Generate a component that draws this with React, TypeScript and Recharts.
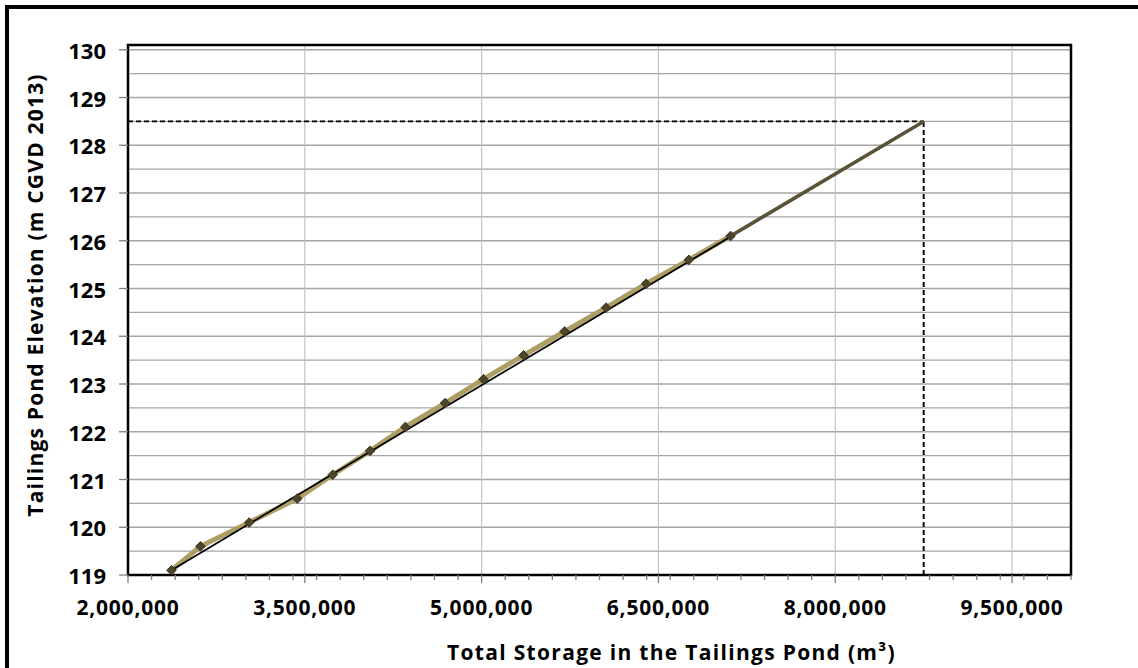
import React from "react";
import {
  LineChart,
  Line,
  XAxis,
  YAxis,
  CartesianGrid,
  ReferenceArea,
} from "recharts";

// ---- Data ----
const STORAGE = [
  2369000, 2615000, 3028000, 3436000, 3737000, 4054000, 4353000, 4690000,
  5016000, 5356000, 5704000, 6056000, 6396000, 6758000, 7112000,
];
const ELEVATION = [
  119.1, 119.6, 120.1, 120.6, 121.1, 121.6, 122.1, 122.6, 123.1, 123.6, 124.1,
  124.6, 125.1, 125.6, 126.1,
];
const FIT_STORAGE = [2369000, 8750000];
const FIT_ELEVATION = [119.1, 128.5];
const PROJ_STORAGE = [7112000, 8750000];
const PROJ_ELEVATION = [126.1, 128.5];
const DESIGN_STORAGE = 8750000;
const DESIGN_ELEVATION = 128.5;

const X_MIN = 2000000;
const X_MAX = 10000000;
const Y_MIN = 119;
const Y_MAX = 130.1;

const X_MAJOR_TICKS = [2000000, 3500000, 5000000, 6500000, 8000000, 9500000];
const X_MINOR_TICKS = [
  2000000, 2200000, 2400000, 2600000, 2800000, 3000000, 3200000, 3400000,
  3600000, 3800000, 4000000, 4200000, 4400000, 4600000, 4800000, 5000000,
  5200000, 5400000, 5600000, 5800000, 6000000, 6200000, 6400000, 6600000,
  6800000, 7000000, 7200000, 7400000, 7600000, 7800000, 8000000, 8200000,
  8400000, 8600000, 8800000, 9000000, 9200000, 9400000, 9600000, 9800000,
  10000000,
];
const Y_TICKS = [119, 120, 121, 122, 123, 124, 125, 126, 127, 128, 129, 130];
const Y_GRID = [
  119, 119.5, 120, 120.5, 121, 121.5, 122, 122.5, 123, 123.5, 124, 124.5, 125,
  125.5, 126, 126.5, 127, 127.5, 128, 128.5, 129, 129.5, 130,
];

const X_TITLE = "Total Storage in the Tailings Pond (m³)";
const Y_TITLE = "Tailings Pond Elevation (m CGVD 2013)";

// ---- Derived tables ----
const dataSeries = STORAGE.map((x, i) => ({ x, y: ELEVATION[i] }));
const fitSeries = FIT_STORAGE.map((x, i) => ({ x, y: FIT_ELEVATION[i] }));
const projSeries = PROJ_STORAGE.map((x, i) => ({ x, y: PROJ_ELEVATION[i] }));
const dashH = [
  { x: X_MIN, y: DESIGN_ELEVATION },
  { x: DESIGN_STORAGE, y: DESIGN_ELEVATION },
];
const dashV = [
  { x: DESIGN_STORAGE, y: Y_MIN },
  { x: DESIGN_STORAGE, y: DESIGN_ELEVATION },
];
const ALL_X_TICKS = Array.from(
  new Set([...X_MINOR_TICKS, ...X_MAJOR_TICKS])
).sort((a, b) => a - b);

const FONT = "'Open Sans', 'DejaVu Sans', sans-serif";

const XTick = (props: any) => {
  const { x, y, payload } = props;
  const v = payload.value;
  const major = X_MAJOR_TICKS.includes(v);
  return (
    <g>
      <line
        x1={x}
        x2={x}
        y1={y}
        y2={y + (major ? 8 : 5)}
        stroke="#7f7f7f"
        strokeWidth={1.3}
      />
      {major && (
        <text
          x={x}
          y={y + 40}
          textAnchor="middle"
          fontFamily={FONT}
          fontWeight={700}
          fontSize={21}
          letterSpacing={0.8}
          fill="#000"
        >
          {v.toLocaleString("en-US")}
        </text>
      )}
    </g>
  );
};

const YTick = (props: any) => {
  const { x, y, payload } = props;
  return (
    <text
      x={x}
      y={y}
      textAnchor="end"
      dominantBaseline="central"
      fontFamily={FONT}
      fontWeight={700}
      fontSize={22}
      fill="#000"
    >
      {payload.value}
    </text>
  );
};

const Diamond = (props: any) => {
  const { cx, cy, index } = props;
  const r = 4.8;
  return (
    <path
      key={`d-${index}`}
      d={`M${cx},${cy - r}L${cx + r},${cy}L${cx},${cy + r}L${cx - r},${cy}Z`}
      fill="#4b4529"
      stroke="#3a3520"
      strokeWidth={1}
    />
  );
};

const YTitle = (props: any) => {
  const vb = props.viewBox;
  const cx = vb.x + 43;
  const cy = vb.y + vb.height / 2 - 15;
  return (
    <text
      x={cx}
      y={cy}
      transform={`rotate(-90 ${cx} ${cy})`}
      textAnchor="middle"
      fontFamily={FONT}
      fontWeight={700}
      fontSize={21}
      letterSpacing={1.2}
      fill="#000"
    >
      {Y_TITLE}
    </text>
  );
};

const XTitle = (props: any) => {
  const vb = props.viewBox;
  return (
    <text
      x={vb.x + vb.width / 2 + 72}
      y={vb.y + 85}
      textAnchor="middle"
      fontFamily={FONT}
      fontWeight={700}
      fontSize={21}
      letterSpacing={1.3}
      fill="#000"
    >
      {X_TITLE}
    </text>
  );
};

export default function App() {
  return (
    <div
      style={{
        position: "fixed",
        left: 0,
        top: 0,
        width: 1138,
        height: 668,
        background: "#fff",
        overflow: "hidden",
      }}
    >
      <div
        style={{
          position: "absolute",
          left: 5,
          top: 5,
          width: 1300,
          height: 900,
          borderLeft: "4px solid #000",
          borderTop: "4px solid #000",
        }}
      />
      <div style={{ position: "absolute", left: 0, top: 0 }}>
        <LineChart
          width={1138}
          height={668}
          margin={{ top: 45, right: 67, bottom: 0, left: 0 }}
        >
          <XAxis
            xAxisId="main"
            type="number"
            dataKey="x"
            domain={[X_MIN, X_MAX]}
            ticks={ALL_X_TICKS}
            interval={0}
            tick={<XTick />}
            tickLine={false}
            tickSize={0}
            tickMargin={0}
            axisLine={false}
            height={93}
            allowDataOverflow
            label={<XTitle />}
          />
          <XAxis
            xAxisId="grid"
            orientation="top"
            type="number"
            dataKey="x"
            domain={[X_MIN, X_MAX]}
            ticks={X_MAJOR_TICKS}
            interval={0}
            allowDataOverflow
            hide
          />
          <YAxis
            yAxisId="main"
            type="number"
            domain={[Y_MIN, Y_MAX]}
            ticks={Y_TICKS}
            interval={0}
            width={128}
            tick={<YTick />}
            tickSize={9}
            tickMargin={13}
            tickLine={{ stroke: "#7f7f7f", strokeWidth: 1.3 }}
            axisLine={false}
            allowDataOverflow
            label={<YTitle />}
          />
          <YAxis
            yAxisId="grid"
            orientation="right"
            type="number"
            domain={[Y_MIN, Y_MAX]}
            ticks={Y_GRID}
            interval={0}
            allowDataOverflow
            hide
          />
          <CartesianGrid
            xAxisId="grid"
            yAxisId="grid"
            vertical={false}
            stroke="#a6a6a6"
            strokeWidth={1.4}
          />
          <CartesianGrid
            xAxisId="grid"
            yAxisId="grid"
            horizontal={false}
            stroke="#c0c0c0"
            strokeWidth={1.1}
          />
          <ReferenceArea
            xAxisId="main"
            yAxisId="main"
            x1={X_MIN}
            x2={X_MAX}
            y1={Y_MIN}
            y2={Y_MAX}
            fill="none"
            stroke="#000"
            strokeWidth={2.5}
            ifOverflow="visible"
          />
          <Line
            xAxisId="main"
            yAxisId="main"
            data={dashH}
            dataKey="y"
            stroke="#000"
            strokeWidth={1.9}
            strokeDasharray="5 3"
            dot={false}
            activeDot={false}
            isAnimationActive={false}
          />
          <Line
            xAxisId="main"
            yAxisId="main"
            data={dashV}
            dataKey="y"
            stroke="#000"
            strokeWidth={1.9}
            strokeDasharray="5 3"
            dot={false}
            activeDot={false}
            isAnimationActive={false}
          />
          <Line
            xAxisId="main"
            yAxisId="main"
            data={dataSeries}
            dataKey="y"
            stroke="#ad9e64"
            strokeWidth={5}
            dot={<Diamond />}
            activeDot={false}
            isAnimationActive={false}
          />
          <Line
            xAxisId="main"
            yAxisId="main"
            data={fitSeries}
            dataKey="y"
            stroke="#000"
            strokeWidth={1.8}
            dot={false}
            activeDot={false}
            isAnimationActive={false}
          />
          <Line
            xAxisId="main"
            yAxisId="main"
            data={projSeries}
            dataKey="y"
            stroke="#5a5338"
            strokeWidth={3.5}
            dot={false}
            activeDot={false}
            isAnimationActive={false}
          />
        </LineChart>
      </div>
    </div>
  );
}
